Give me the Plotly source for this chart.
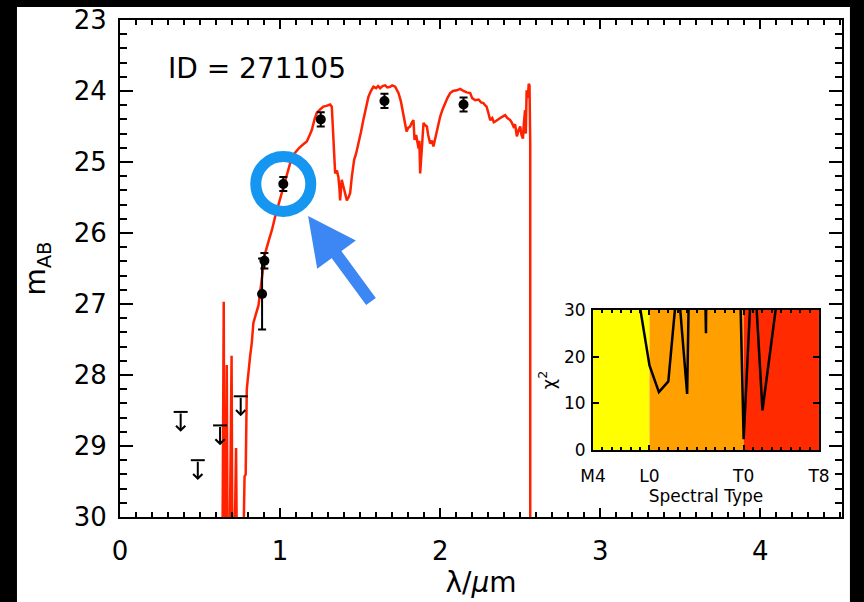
import plotly.graph_objects as go

# ---------------- data ----------------
spec_wl = [0.640, 0.648, 0.652, 0.660, 0.667, 0.672, 0.685, 0.697, 0.702, 0.712, 0.720, 0.725, 0.730,
           0.770, 0.778, 0.785, 0.792, 0.800, 0.8125, 0.823, 0.833, 0.848, 0.865, 0.885, 0.906, 0.930,
           0.950, 0.969, 0.990, 1.010, 1.035, 1.0625, 1.090, 1.120, 1.145, 1.167, 1.185, 1.198, 1.215,
           1.229, 1.250, 1.270, 1.290, 1.3125, 1.323, 1.333, 1.344, 1.355, 1.364, 1.370, 1.375, 1.385,
           1.392, 1.400, 1.410, 1.417, 1.427, 1.4375, 1.448, 1.4625, 1.475, 1.490, 1.505, 1.520, 1.535,
           1.552, 1.567, 1.583, 1.600, 1.612, 1.625, 1.640, 1.656, 1.670, 1.6875, 1.700, 1.719, 1.730,
           1.740, 1.755, 1.770, 1.780, 1.790, 1.800, 1.8125, 1.822, 1.833, 1.840, 1.850, 1.865, 1.870,
           1.875, 1.885, 1.896, 1.905, 1.917, 1.925, 1.9375, 1.948, 1.958, 1.968, 1.979, 1.990, 2.000,
           2.015, 2.030, 2.045, 2.0625, 2.080, 2.104, 2.125, 2.146, 2.165, 2.1875, 2.200, 2.219, 2.240,
           2.255, 2.270, 2.280, 2.290, 2.300, 2.3125, 2.325, 2.335, 2.344, 2.360, 2.375, 2.390, 2.406,
           2.420, 2.4375, 2.448, 2.458, 2.468, 2.479, 2.490, 2.500, 2.508, 2.517, 2.523, 2.530, 2.535,
           2.540, 2.548, 2.553, 2.558, 2.5625, 2.5626]
spec_mag = [30.5, 26.97, 30.5, 30.5, 27.86, 30.5, 30.5, 27.73, 30.5, 30.5, 29.8, 29.03, 30.5,
            30.5, 29.43, 29.40, 28.2, 28.0, 27.74, 27.55, 27.27, 27.15, 27.02, 26.66, 26.29, 26.10,
            25.95, 25.77, 25.60, 25.44, 25.25, 25.02, 24.88, 24.80, 24.75, 24.71, 24.62, 24.55, 24.40,
            24.31, 24.26, 24.22, 24.21, 24.19, 24.22, 24.74, 25.16, 25.12, 25.21, 25.35, 25.54, 25.25,
            25.32, 25.39, 25.48, 25.54, 25.50, 25.44, 25.21, 24.97, 24.88, 24.74, 24.58, 24.41, 24.25,
            24.08, 24.00, 23.94, 23.96, 23.93, 23.96, 23.93, 23.92, 23.95, 23.94, 23.92, 23.94, 23.98,
            24.03, 24.15, 24.31, 24.45, 24.57, 24.52, 24.50, 24.45, 24.41, 24.69, 24.62, 24.81, 24.70,
            25.16, 24.83, 24.45, 24.48, 24.50, 24.62, 24.74, 24.70, 24.78, 24.68, 24.57, 24.46, 24.36,
            24.26, 24.17, 24.10, 24.03, 24.00, 23.99, 23.97, 24.00, 24.02, 24.03, 24.10, 24.13, 24.12,
            24.16, 24.17, 24.20, 24.22, 24.30, 24.41, 24.38, 24.44, 24.43, 24.40, 24.38, 24.36, 24.34,
            24.38, 24.41, 24.45, 24.50, 24.47, 24.64, 24.55, 24.50, 24.62, 24.67, 24.45, 24.27, 24.60,
            23.99, 24.10, 23.90, 23.92, 24.73, 30.5]

phot_wl = [0.8875, 0.902, 1.02, 1.254, 1.652, 2.146]
phot_mag = [26.86, 26.39, 25.31, 24.40, 24.14, 24.19]
phot_err = [0.50, 0.11, 0.10, 0.10, 0.10, 0.10]

lim_wl = [0.379, 0.486, 0.625, 0.754]
lim_mag = [28.52, 29.20, 28.71, 28.30]

sptype = [4, 5, 6, 7, 8, 9, 10, 11, 12, 13, 14, 15, 16, 17, 18, 19, 20, 21, 22, 23, 24, 25, 26, 27, 28]
chi2 = [300, 280, 250, 200, 120, 30.5, 18.1, 12.4, 14.7, 36.6, 12.0, 132, 25, 400, 300, 90,
        2.3, 43.6, 8.5, 23.9, 39.3, 150, 250, 300, 350]

sp_tickvals = [4, 10, 20, 28]
sp_ticktext = ["M4", "L0", "T0", "T8"]
class_bounds = [4, 10, 20, 28]
class_colors = ["#FFFF00", "#FF9F00", "#FF2A00"]
chi2_range = [0, 30]

highlight_idx = 2  # Y-band point that is circled

FONT = "DejaVu Sans"

fig = go.Figure()

fig.add_trace(go.Scatter(x=spec_wl, y=spec_mag, mode="lines",
                         line=dict(color="#FF2200", width=2.5), showlegend=False,
                         xaxis="x", yaxis="y"))

fig.add_trace(go.Scatter(x=phot_wl, y=phot_mag, mode="markers",
                         marker=dict(color="black", size=10),
                         error_y=dict(type="data", array=phot_err, color="black",
                                      thickness=2, width=4),
                         showlegend=False, xaxis="x", yaxis="y"))

fig.add_trace(go.Scatter(x=lim_wl, y=lim_mag, mode="markers",
                         marker=dict(symbol="line-ew", size=10,
                                     line=dict(color="black", width=2)),
                         showlegend=False, xaxis="x", yaxis="y"))

for w, m in zip(lim_wl, lim_mag):
    fig.add_annotation(x=w, y=m + 0.28, ax=w, ay=m, xref="x", yref="y",
                       axref="x", ayref="y", text="", showarrow=True,
                       arrowhead=4, arrowsize=0.9, arrowwidth=2, arrowcolor="black",
                       standoff=0, startstandoff=0)

# inset chi2
fig.add_trace(go.Scatter(x=sptype, y=chi2, mode="lines",
                         line=dict(color="black", width=2.5), showlegend=False,
                         xaxis="x2", yaxis="y2"))

shapes = []
# white panel on black background
shapes.append(dict(type="rect", xref="paper", yref="paper", x0=-0.1427, x1=1.011,
                   y0=-0.2, y1=1.0262, fillcolor="white", line=dict(width=0), layer="below"))
for i, c in enumerate(class_colors):
    shapes.append(dict(type="rect", xref="x2", yref="y2",
                       x0=class_bounds[i], x1=class_bounds[i + 1],
                       y0=chi2_range[0], y1=chi2_range[1],
                       fillcolor=c, line=dict(width=0), layer="below"))
# blue ring around highlighted point
shapes.append(dict(type="circle", xref="x", yref="y", xsizemode="pixel", ysizemode="pixel",
                   xanchor=phot_wl[highlight_idx], yanchor=phot_mag[highlight_idx],
                   x0=-27.5, x1=27.5, y0=-27.5, y1=27.5,
                   line=dict(color="#1597F1", width=11)))
fig.update_layout(shapes=shapes)

# blue arrow
fig.add_annotation(x=1.175, y=25.76, xref="x", yref="y", ax=64, ay=87,
                   text="", showarrow=True, arrowhead=2, arrowsize=0.8, arrowwidth=12,
                   arrowcolor="#3C87F4", standoff=0)

fig.add_annotation(x=0.29, y=23.68, xref="x", yref="y", xanchor="left", yanchor="middle",
                   text="ID = 271105", showarrow=False,
                   font=dict(family=FONT, size=28, color="black"))

axis_common = dict(showgrid=False, zeroline=False, linecolor="black", linewidth=2,
                   mirror="allticks", ticks="inside", tickcolor="black", tickwidth=2,
                   automargin=False)

fig.update_layout(
    width=864, height=602,
    margin=dict(l=120, r=22, t=20, b=85),
    paper_bgcolor="black", plot_bgcolor="white",
    font=dict(family=FONT, color="black"),
    xaxis=dict(range=[0, 4.51], tick0=0, dtick=1, ticklen=9,
               minor=dict(dtick=0.1, ticklen=5, tickwidth=1.5, ticks="inside", tickcolor="black"),
               tickfont=dict(size=26), ticklabelstandoff=10,
               title=dict(text="λ/<i>μ</i>m", font=dict(size=28), standoff=6),
               **axis_common),
    yaxis=dict(range=[30, 23], tick0=23, dtick=1, ticklen=13,
               minor=dict(dtick=0.2, ticklen=7, tickwidth=1.5, ticks="inside", tickcolor="black"),
               tickfont=dict(size=26), ticklabelstandoff=6,
               title=dict(text="m<sub>AB</sub>", font=dict(size=28), standoff=20),
               **axis_common),
    xaxis2=dict(domain=[0.6551, 0.9681], anchor="y2", range=[4, 28],
                tickvals=sp_tickvals, ticktext=sp_ticktext, ticklen=5,
                minor=dict(dtick=1, tick0=4, ticklen=3, tickwidth=1.5, ticks="inside", tickcolor="black"),
                tickfont=dict(size=17), ticklabelstandoff=10,
                title=dict(text="Spectral Type", font=dict(size=17), standoff=4),
                **axis_common),
    yaxis2=dict(domain=[0.1348, 0.4165], anchor="x2", range=chi2_range,
                tickvals=[0, 10, 20, 30], ticklen=6,
                tickfont=dict(size=17), ticklabelstandoff=2,
                title=dict(text="χ<sup>2</sup>", font=dict(size=18), standoff=4),
                **axis_common),
)

fig.write_html("out.html")
